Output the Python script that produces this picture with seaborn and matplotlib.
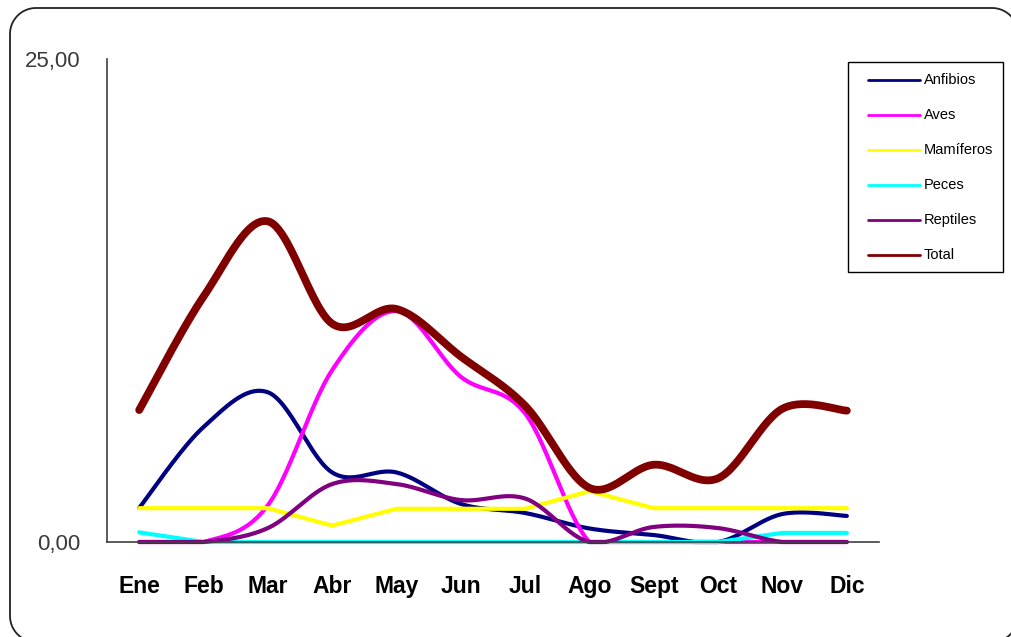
import numpy as np
import pandas as pd
import seaborn as sns
import matplotlib.pyplot as plt
from matplotlib.lines import Line2D
from matplotlib.patches import Rectangle

sns.set_style("white")
plt.rcParams['font.family'] = ['Liberation Sans', 'DejaVu Sans']

# Monthly records per group
meses = ["Ene", "Feb", "Mar", "Abr", "May", "Jun", "Jul", "Ago", "Sept", "Oct", "Nov", "Dic"]
anfibios = [1.76, 5.95, 7.75, 3.6, 3.6, 1.97, 1.5, 0.7, 0.36, 0.0, 1.45, 1.35]
aves = [0.0, 0.0, 1.9, 8.9, 11.95, 8.55, 6.65, 0.0, 0.0, 0.0, 0.0, 0.0]
mamiferos = [1.75, 1.75, 1.75, 0.85, 1.72, 1.72, 1.72, 2.63, 1.75, 1.75, 1.75, 1.75]
peces = [0.5, 0.0, 0.0, 0.0, 0.0, 0.0, 0.0, 0.0, 0.0, 0.0, 0.47, 0.47]
reptiles = [0.0, 0.0, 0.72, 3.0, 3.0, 2.17, 2.25, 0.0, 0.78, 0.72, 0.0, 0.0]
total = [6.83, 12.7, 16.6, 11.3, 12.06, 9.6, 7.05, 2.8, 4.0, 3.3, 6.9, 6.8]

series = [
    ("Anfibios", anfibios, "#000080", 3.0, True),
    ("Aves", aves, "#FF00FF", 3.0, True),
    ("Mamíferos", mamiferos, "#FFFF00", 3.0, False),
    ("Peces", peces, "#00FFFF", 3.0, False),
    ("Reptiles", reptiles, "#800080", 3.0, True),
    ("Total", total, "#800000", 5.6, True),
]


def smooth_curve(values, steps=30):
    """Cubic Bezier smoothing through every point (Catmull-Rom style)."""
    y = np.asarray(values, dtype=float)
    x = np.arange(len(y), dtype=float)
    xs, ys = [], []
    n = len(y)
    for i in range(n - 1):
        i0, i3 = max(i - 1, 0), min(i + 2, n - 1)
        p0 = np.array([x[i0], y[i0]])
        p1 = np.array([x[i], y[i]])
        p2 = np.array([x[i + 1], y[i + 1]])
        p3 = np.array([x[i3], y[i3]])
        c1 = p1 + (p2 - p0) / 6.0
        c2 = p2 - (p3 - p1) / 6.0
        t = np.linspace(0, 1, steps, endpoint=(i == n - 2))[:, None]
        pts = ((1 - t) ** 3) * p1 + 3 * ((1 - t) ** 2) * t * c1 + 3 * (1 - t) * t ** 2 * c2 + t ** 3 * p2
        xs.append(pts[:, 0])
        ys.append(pts[:, 1])
    return np.concatenate(xs), np.maximum(np.concatenate(ys), 0)


W, H = 1012, 637
fig = plt.figure(figsize=(W / 100, H / 100), dpi=100)
fig.patch.set_facecolor("white")


def rounded_outline(x0, y0, x1, y1, r, n=24):
    """Closed outline of a rounded rectangle in pixel coordinates."""
    pts = []
    corners = [(x1 - r, y1 - r, 0), (x0 + r, y1 - r, 90),
               (x0 + r, y0 + r, 180), (x1 - r, y0 + r, 270)]
    for cx, cy, a0 in corners:
        a = np.radians(np.linspace(a0, a0 + 90, n))
        pts.append(np.column_stack([cx + r * np.cos(a), cy + r * np.sin(a)]))
    pts = np.vstack(pts + [pts[0][:1]])
    return pts[:, 0], pts[:, 1]


# outer rounded frame; y measured upward from the bottom of the canvas
fx, fy = rounded_outline(10, -5, 1018, H - 8, 26)
fig.add_artist(Line2D(fx, fy, transform=None, color="#222222", lw=1.3))

left, right, top, bottom = 107, 879, 59, 542
ax = fig.add_axes([left / W, 1 - bottom / H, (right - left) / W, (bottom - top) / H])
ax.set_facecolor("none")

for name, vals, color, lw, smooth in series:
    if smooth:
        xs, ys = smooth_curve(vals)
    else:
        xs, ys = np.arange(len(vals)), np.asarray(vals)
    df = pd.DataFrame({"x": xs, "y": ys})
    sns.lineplot(data=df, x="x", y="y", ax=ax, color=color, linewidth=lw,
                 sort=False, estimator=None, clip_on=False,
                 solid_capstyle="round", solid_joinstyle="round")

ax.set_xlim(-0.5, len(meses) - 0.5)
ax.set_ylim(0, 25)
ax.set_xlabel("")
ax.set_ylabel("")

for s in ("top", "right"):
    ax.spines[s].set_visible(False)
for s in ("left", "bottom"):
    ax.spines[s].set_color("#404040")
    ax.spines[s].set_linewidth(1.2)

ax.set_yticks([0, 25])
ax.set_yticklabels(["0,00", "25,00"], fontsize=16, color="#3a3a3a")
ax.tick_params(axis="y", direction="out", length=5, width=1.2, color="#404040", pad=14)

ax.set_xticks(np.arange(-0.5, len(meses), 1.0))
ax.set_xticklabels([])
ax.set_xticks(np.arange(len(meses)), minor=True)
ax.set_xticklabels(meses, minor=True, fontsize=16.5, fontweight="bold", color="black")
ax.tick_params(axis="x", which="major", direction="out", length=7, width=1.2, color="#404040")
ax.tick_params(axis="x", which="minor", length=0, pad=24)


def py(y):
    return H - y


# legend box in pixel coordinates (y given from the top)
fig.add_artist(Rectangle((848, py(272)), 155, 210, transform=None,
                         facecolor="white", edgecolor="black", linewidth=1.0))
for k, (name, _, color, _, _) in enumerate(series):
    yk = py(80 + k * 35)
    fig.add_artist(Line2D([868, 920], [yk, yk], transform=None, color=color, lw=2.0))
    fig.text(924 / W, yk / H, name, fontsize=10.5, color="black",
             ha="left", va="center")

fig.savefig("out.png", dpi=100)
